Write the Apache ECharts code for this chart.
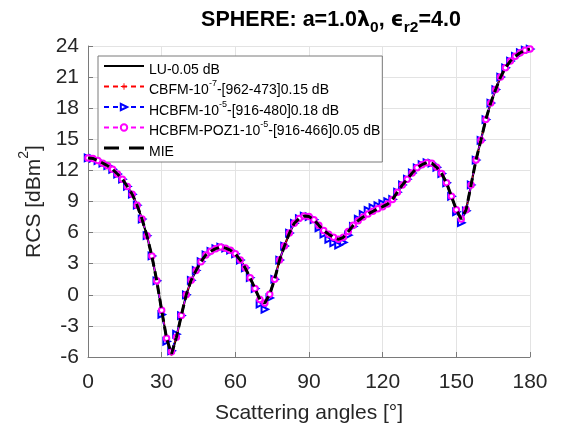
<!DOCTYPE html>
<html><head><meta charset="utf-8">
<script src="https://cdn.jsdelivr.net/npm/echarts@6/dist/echarts.min.js"></script>
<style>html,body{margin:0;padding:0;background:#fff}#c{width:565px;height:435px}</style>
</head><body><div id="c"></div>
<script>
const angles = [0,2,4,6,8,10,12,14,16,18,20,22,24,26,28,30,32,34,36,38,40,42,44,46,48,50,52,54,56,58,60,62,64,66,68,70,72,74,76,78,80,82,84,86,88,90,92,94,96,98,100,102,104,106,108,110,112,114,116,118,120,122,124,126,128,130,132,134,136,138,140,142,144,146,148,150,152,154,156,158,160,162,164,166,168,170,172,174,176,178,180];
const mie = [13.2,13.15,12.95,12.7,12.45,12.1,11.65,11.15,10.45,9.7,
 8.65,7.3,5.7,3.75,1.35,-1.5,-4.2,-5.7,-4.1,-2.0,
 0.0,1.4,2.35,3.2,3.85,4.2,4.45,4.6,4.5,4.3,
 3.95,3.35,2.6,1.65,0.6,-0.45,-0.8,0.05,1.5,3.35,
 4.7,5.95,6.9,7.35,7.6,7.55,7.25,6.7,6.2,5.85,
 5.55,5.35,5.55,6.1,6.7,7.15,7.5,7.8,8.05,8.3,
 8.5,8.75,9.2,9.9,10.6,11.15,11.75,12.25,12.55,12.75,
 12.7,12.3,11.7,10.8,9.5,8.2,7.3,8.2,10.6,13.0,
 14.9,16.9,18.5,19.8,21.0,21.9,22.55,23.0,23.35,23.6,
 23.7];
const lu = [13.2,13.15,12.95,12.7,12.45,12.1,11.65,11.15,10.45,9.7,
 8.65,7.3,5.7,3.75,1.35,-1.5,-4.2,-5.8,-4.1,-2.0,
 0.0,1.4,2.35,3.2,3.85,4.2,4.45,4.6,4.5,4.3,
 3.95,3.35,2.6,1.65,0.6,-0.45,-0.8,0.05,1.5,3.35,
 4.7,5.95,6.9,7.35,7.6,7.55,7.25,6.7,6.2,5.85,
 5.55,5.35,5.55,6.1,6.7,7.15,7.5,7.8,8.05,8.3,
 8.5,8.75,9.2,9.9,10.6,11.15,11.75,12.25,12.55,12.75,
 12.7,12.3,11.7,10.8,9.5,8.2,7.3,8.2,10.6,13.0,
 14.9,16.9,18.5,19.8,21.0,21.9,22.55,23.0,23.35,23.6,
 23.7];
const cbfm = [13.2,13.15,12.95,12.7,12.45,12.1,11.65,11.15,10.45,9.7,
 8.65,7.3,5.7,3.75,1.35,-1.5,-4.2,-5.6,-4.1,-2.0,
 0.0,1.4,2.35,3.2,3.85,4.2,4.45,4.6,4.5,4.3,
 3.95,3.35,2.6,1.65,0.6,-0.55,-0.95,0.05,1.5,3.35,
 4.7,5.95,6.9,7.35,7.6,7.55,7.25,6.7,6.2,5.85,
 5.5,5.25,5.5,6.1,6.7,7.15,7.5,7.8,8.05,8.3,
 8.5,8.75,9.2,9.9,10.6,11.15,11.75,12.25,12.55,12.75,
 12.7,12.3,11.7,10.8,9.5,8.2,7.3,8.2,10.6,13.0,
 14.9,16.9,18.5,19.8,21.0,21.9,22.55,23.0,23.35,23.6,
 23.7];
const hcbfm = [13.2,13.15,12.95,12.7,12.45,12.1,11.65,11.15,10.45,9.7,
 8.65,7.3,5.7,3.75,1.35,-1.9,-4.5,-5.4,-3.8,-2.0,
 0.0,1.4,2.35,3.2,3.85,4.2,4.45,4.6,4.5,4.3,
 3.95,3.35,2.6,1.65,0.6,-0.9,-1.4,-0.3,1.5,3.35,
 4.7,5.95,6.9,7.35,7.6,7.55,7.25,6.45,5.85,5.35,
 5.0,4.8,5.05,5.75,6.6,7.3,7.75,8.15,8.4,8.6,
 8.8,9.0,9.2,9.9,10.6,11.15,11.75,12.25,12.55,12.75,
 12.7,12.3,11.7,10.8,9.5,8.0,6.95,8.1,10.6,13.0,
 14.9,16.9,18.5,19.8,21.0,21.9,22.55,23.0,23.35,23.6,
 23.7];
const poz1 = [13.2,13.15,12.95,12.7,12.45,12.1,11.65,11.15,10.45,9.7,
 8.65,7.3,5.7,3.75,1.35,-1.5,-4.2,-5.5,-4.1,-2.0,
 0.0,1.4,2.35,3.2,3.85,4.2,4.45,4.6,4.5,4.3,
 3.95,3.35,2.6,1.65,0.6,-0.45,-0.8,0.05,1.5,3.35,
 4.7,5.95,6.9,7.35,7.6,7.55,7.25,6.7,6.2,5.85,
 5.55,5.35,5.55,6.1,6.7,7.15,7.5,7.8,8.05,8.3,
 8.5,8.75,9.2,9.9,10.6,11.15,11.75,12.25,12.55,12.75,
 12.7,12.3,11.7,10.8,9.5,8.2,7.3,8.2,10.6,13.0,
 14.9,16.9,18.5,19.8,21.0,21.9,22.55,23.0,23.35,23.6,
 23.7];
const xTicks = [0,30,60,90,120,150,180];
const yTicks = [-6,-3,0,3,6,9,12,15,18,21,24];
const seriesNames = ['LU','CBFM','HCBFM','POZ1','MIE'];
const legendLabels = {
  LU: '{a|LU-0.05 dB}',
  CBFM: '{a|CBFM-10}{s|-7}{a|-[962-473]0.15 dB}',
  HCBFM: '{a|HCBFM-10}{s|-5}{a|-[916-480]0.18 dB}',
  POZ1: '{a|HCBFM-POZ1-10}{s|-5}{a|-[916-466]0.05 dB}',
  MIE: '{a|MIE}'
};

const FONT = '"Liberation Sans", Arial, Helvetica, sans-serif';
const pair = arr => angles.map((a,i)=>[a, arr[i]]);
const plusPath = 'path://M4.3,0H5.7V4.3H10V5.7H5.7V10H4.3V5.7H0V4.3H4.3Z';

const chart = echarts.init(document.getElementById('c'), null, {renderer:'canvas'});
chart.setOption({
  animation:false,
  backgroundColor:'#fff',
  title:{
    text:'{b|SPHERE: a=1.0}{g|λ}{sub|0}{b|, }{g|ϵ}{sub|r2}{b|=4.0}',
    left:326, top:4, textAlign:'center',
    textStyle:{
      rich:{
        b:{fontFamily:FONT, fontWeight:'bold', fontSize:21.5, color:'#000', lineHeight:22, verticalAlign:'top'},
        g:{fontFamily:'"DejaVu Sans", sans-serif', fontSize:20.5, color:'#000', lineHeight:22, verticalAlign:'top', padding:[1,0,0,0]},
        sub:{fontFamily:FONT, fontWeight:'bold', fontSize:15.5, color:'#000', lineHeight:15, verticalAlign:'top', padding:[11,0,0,0]}
      }
    }
  },
  grid:{left:88, right:35, top:46, bottom:78, containLabel:false},
  xAxis:{
    type:'value', min:0, max:180, interval:30,
    name:'Scattering angles [°]', nameLocation:'middle', nameGap:46,
    nameTextStyle:{fontFamily:FONT, fontSize:21, color:'#262626'},
    axisLine:{show:true, onZero:false, lineStyle:{color:'#7a7a7a', width:1}},
    axisTick:{show:true, inside:true, length:5, lineStyle:{color:'#7a7a7a'}},
    axisLabel:{fontFamily:FONT, fontSize:21, color:'#262626', margin:15},
    splitLine:{show:true, lineStyle:{color:'#e3e3e3', width:1}}
  },
  yAxis:{
    type:'value', min:-6, max:24, interval:3,
    name:'{a|RCS [dBm}{s|2}{a|]}', nameLocation:'middle', nameGap:46, nameRotate:90,
    nameTextStyle:{
      rich:{
        a:{fontFamily:FONT, fontSize:21, color:'#262626', lineHeight:21, verticalAlign:'top', padding:[7,0,0,0]},
        s:{fontFamily:FONT, fontSize:14, color:'#262626', lineHeight:14, verticalAlign:'top'}
      }
    },
    axisLine:{show:true, onZero:false, lineStyle:{color:'#7a7a7a', width:1}},
    axisTick:{show:true, inside:true, length:5, lineStyle:{color:'#7a7a7a'}},
    axisLabel:{fontFamily:FONT, fontSize:21, color:'#262626', margin:9},
    splitLine:{show:true, lineStyle:{color:'#e3e3e3', width:1}}
  },
  legend:{
    orient:'vertical', left:98, top:56,
    backgroundColor:'#fff', borderColor:'#7a7a7a', borderWidth:1,
    padding:[3,2,3,5], itemGap:2.5, itemWidth:40, itemHeight:8,
    data:[
      {name:'LU', icon:'path://M0,0H40V2.2H0Z', itemStyle:{color:'#000'}},
      {name:'CBFM'},
      {name:'HCBFM'},
      {name:'POZ1'},
      {name:'MIE', icon:'path://M0,0H15V3H0Z M25,0H40V3H25Z', itemStyle:{color:'#000'}}
    ],
    formatter: n => legendLabels[n],
    textStyle:{
      rich:{
        a:{fontFamily:FONT, fontSize:14, color:'#000', lineHeight:14, verticalAlign:'top', padding:[4,0,0,0]},
        s:{fontFamily:FONT, fontSize:9, color:'#000', lineHeight:9, verticalAlign:'top'}
      }
    }
  },
  series:[
    {name:'LU', type:'line', data:pair(lu), showSymbol:false, symbol:'none',
     lineStyle:{color:'#000', width:2.2}, itemStyle:{color:'#000'}, z:2},
    {name:'CBFM', type:'line', data:pair(cbfm), symbol:plusPath, symbolSize:6,
     lineStyle:{color:'#ff0000', width:1, type:[5,4]}, itemStyle:{color:'#ff0000'}, z:3},
    {name:'HCBFM', type:'line', data:pair(hcbfm), symbol:'emptyTriangle', symbolSize:6.5, symbolRotate:-90,
     lineStyle:{color:'#0000ff', width:1, type:[5,4]}, itemStyle:{color:'#0000ff', borderWidth:1}, z:4},
    {name:'POZ1', type:'line', data:pair(poz1), symbol:'emptyCircle', symbolSize:5.5,
     lineStyle:{color:'#ff00ff', width:1, type:[5,4]}, itemStyle:{color:'#ff00ff', borderWidth:1}, z:5},
    {name:'MIE', type:'line', data:pair(mie), showSymbol:false, symbol:'none',
     lineStyle:{color:'#000', width:3, type:[9,5]}, itemStyle:{color:'#000'}, z:6}
  ]
});
</script>
</body></html>
